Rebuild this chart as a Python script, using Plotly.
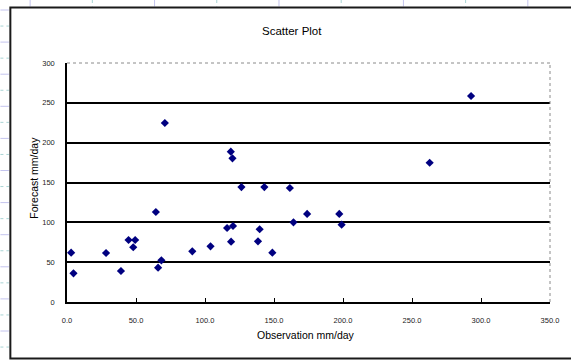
import plotly.graph_objects as go

# Observed vs forecast daily rainfall (mm/day)
observation = [3.0, 4.7, 28.3, 39.1, 44.6, 49.4, 48.0, 64.4, 66.0, 68.4,
               70.9, 90.8, 104.0, 116.0, 120.3, 118.9, 118.7, 119.9, 126.4, 143.0,
               139.6, 138.4, 148.8, 161.5, 164.1, 174.0, 197.3, 199.0, 262.8, 292.8]
forecast = [61.9, 36.0, 61.5, 38.9, 77.8, 77.8, 68.7, 113.0, 43.1, 52.3,
            224.7, 63.6, 69.9, 92.9, 95.4, 75.7, 188.7, 180.4, 144.3, 144.3,
            91.3, 76.2, 61.9, 143.1, 100.0, 110.5, 110.5, 97.0, 174.8, 258.6]

x_ticks = [0, 50, 100, 150, 200, 250, 300, 350]
y_ticks = [0, 50, 100, 150, 200, 250, 300]

W, H = 571, 361
L, R, T, B = 67, 18, 63, 59
PW, PH = W - L - R, H - T - B


def px(x):
    return (x - L) / PW


def py(y):
    return (H - B - y) / PH


fig = go.Figure()
fig.add_trace(go.Scatter(
    x=observation, y=forecast, mode="markers",
    marker=dict(symbol="diamond", size=6.3, color="#000080",
                line=dict(width=0)),
    hoverinfo="x+y", showlegend=False,
))

shapes = []
# worksheet cell lines visible around the chart object
for k in range(10):
    xv = 29.9 + 62.6 * k
    solid = k % 2 == 0
    shapes.append(dict(type="line", xref="paper", yref="paper",
                       x0=px(xv), x1=px(xv), y0=py(0), y1=py(6.5),
                       line=dict(color="#c4c4ee" if solid else "#a8d4d4",
                                 width=1, dash="solid" if solid else "dot")))
for k in range(23):
    yv = 10 + 16.05 * k
    solid = k % 2 == 0
    shapes.append(dict(type="line", xref="paper", yref="paper",
                       x0=px(0), x1=px(8.5), y0=py(yv), y1=py(yv),
                       line=dict(color="#c4c4ee" if solid else "#a8d4d4",
                                 width=1, dash="solid" if solid else "dot")))
# chart object frame
shapes.append(dict(type="rect", xref="paper", yref="paper",
                   x0=px(10), x1=px(600), y0=py(358.5), y1=py(7.5),
                   line=dict(color="#1a1a1a", width=2)))
# dotted border on top and right of the plot area
shapes.append(dict(type="line", xref="paper", yref="paper",
                   x0=0, x1=1, y0=1, y1=1,
                   line=dict(color="#8a8a8a", width=1, dash="dot")))
shapes.append(dict(type="line", xref="paper", yref="paper",
                   x0=1, x1=1, y0=0, y1=1,
                   line=dict(color="#8a8a8a", width=1, dash="dot")))

font = "Liberation Sans, Arial, sans-serif"
annotations = [
    dict(text="Scatter Plot", xref="paper", yref="paper",
         x=px(293.5), y=py(31), xanchor="center", yanchor="middle",
         showarrow=False,
         font=dict(family=font, size=11.5, color="#000")),
    dict(text="Observation mm/day", xref="paper", yref="paper",
         x=px(307), y=py(335), xanchor="center", yanchor="middle",
         showarrow=False,
         font=dict(family=font, size=10.5, color="#000")),
    dict(text="Forecast mm/day", xref="paper", yref="paper",
         x=px(33), y=py(177.5), xanchor="center", yanchor="middle",
         showarrow=False, textangle=-90,
         font=dict(family=font, size=10.5, color="#000")),
]

fig.update_layout(
    width=W, height=H,
    margin=dict(l=L, r=R, t=T, b=B),
    paper_bgcolor="white", plot_bgcolor="white",
    shapes=shapes, annotations=annotations,
    font=dict(family=font, color="#222"),
)
fig.update_xaxes(
    range=[0, 350], tickvals=x_ticks,
    ticktext=[f"{v:.1f}" for v in x_ticks],
    showgrid=False, zeroline=False,
    showline=True, linecolor="black", linewidth=1.5,
    ticks="inside", ticklen=4, tickcolor="black", tickwidth=1,
    tickfont=dict(size=7.5, color="#222"), ticklabelstandoff=10,
)
fig.update_yaxes(
    range=[0, 300], tickvals=y_ticks,
    ticktext=[str(v) for v in y_ticks],
    showgrid=True, gridcolor="black", gridwidth=1.5,
    zeroline=False,
    showline=True, linecolor="black", linewidth=1.5,
    ticks="", tickfont=dict(size=7.5, color="#222"), ticklabelstandoff=9,
)

fig.write_html("out.html")
